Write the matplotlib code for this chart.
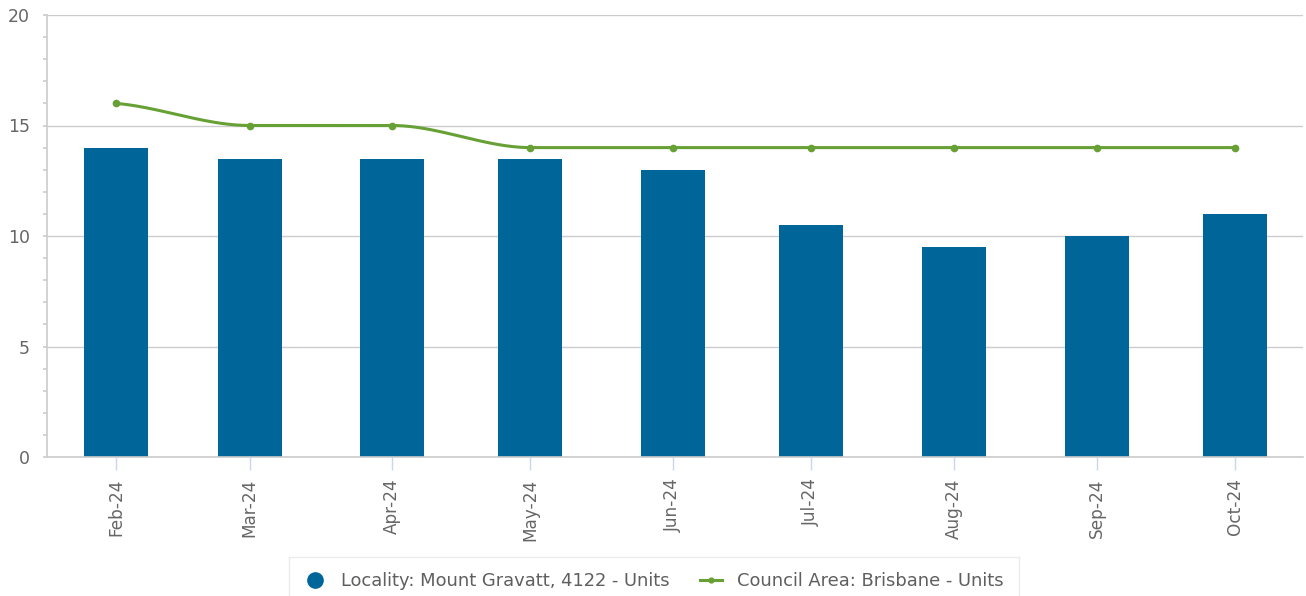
import matplotlib
matplotlib.use("Agg")
import matplotlib.pyplot as plt
import matplotlib.dates as mdates
from matplotlib.lines import Line2D
from matplotlib.ticker import MultipleLocator
import numpy as np
import datetime as dt

months = ["2024-02-01", "2024-03-01", "2024-04-01", "2024-05-01", "2024-06-01",
          "2024-07-01", "2024-08-01", "2024-09-01", "2024-10-01"]
locality_units = [14, 13.5, 13.5, 13.5, 13, 10.5, 9.5, 10, 11]
council_units = [16, 15, 15, 14, 14, 14, 14, 14, 14]
series_names = ["Locality: Mount Gravatt, 4122 - Units", "Council Area: Brisbane - Units"]

BAR_C = "#006699"
LINE_C = "#67a034"
TXT_C = "#666666"

dates = [dt.datetime.strptime(m, "%Y-%m-%d") for m in months]
x = mdates.date2num(dates)


def pchip(xk, yk, n=40):
    xk = np.asarray(xk, float)
    yk = np.asarray(yk, float)
    h = np.diff(xk)
    d = np.diff(yk) / h
    m = np.zeros_like(yk)
    for i in range(1, len(yk) - 1):
        if d[i - 1] * d[i] > 0:
            w1 = 2 * h[i] + h[i - 1]
            w2 = h[i] + 2 * h[i - 1]
            m[i] = (w1 + w2) / (w1 / d[i - 1] + w2 / d[i])
    m[0] = 0.5 * d[0]
    m[-1] = 0.5 * d[-1]
    xs, ys = [], []
    for i in range(len(h)):
        t = np.linspace(0, 1, n)
        h00 = 2 * t**3 - 3 * t**2 + 1
        h10 = t**3 - 2 * t**2 + t
        h01 = -2 * t**3 + 3 * t**2
        h11 = t**3 - t**2
        xs.append(xk[i] + t * h[i])
        ys.append(h00 * yk[i] + h10 * h[i] * m[i] + h01 * yk[i + 1] + h11 * h[i] * m[i + 1])
    return np.concatenate(xs), np.concatenate(ys)


fig = plt.figure(figsize=(13.06, 5.96), dpi=100)
ax = fig.add_axes([47 / 1306, 1 - 457 / 596, (1303 - 47) / 1306, (457 - 15) / 596])

ax.bar(x, locality_units, width=13.9, color=BAR_C, zorder=2, align="center")
sx, sy = pchip(x, council_units)
ax.plot(sx, sy, color=LINE_C, lw=2.2, zorder=3, solid_capstyle="round")
ax.plot(x, council_units, linestyle="none", marker="o", ms=4.5, color=LINE_C, zorder=4)

ax.set_ylim(0, 20)
ax.set_xlim(x[0] - 14.98, x[-1] + 14.77)
ax.yaxis.set_major_locator(MultipleLocator(5))
ax.yaxis.set_minor_locator(MultipleLocator(1))
ax.grid(axis="y", which="major", color="#cccccc", lw=1, zorder=0)
ax.set_axisbelow(True)

ax.set_xticks(x)
ax.set_xticklabels([d.strftime("%b-%y") for d in dates], rotation=90)

for s in ["top", "right"]:
    ax.spines[s].set_visible(False)
ax.spines["left"].set_color("#cccccc")
ax.spines["bottom"].set_color("#cccccc")
ax.spines["left"].set_linewidth(1.2)
ax.spines["bottom"].set_linewidth(1.2)

ax.tick_params(axis="y", which="major", length=3, width=1.2, color="#cccccc",
               labelsize=12.5, labelcolor=TXT_C, pad=9.2)
ax.tick_params(axis="y", which="minor", length=3, width=1.2, color="#cccccc")
ax.tick_params(axis="x", which="major", length=9.5, width=1, color="#ccd6eb",
               labelsize=12.2, labelcolor=TXT_C, pad=6)

handles = [
    Line2D([], [], linestyle="none", marker="o", ms=11, color=BAR_C),
    Line2D([], [], color=LINE_C, lw=2.2, marker="o", ms=3.5),
]
leg = fig.legend(handles, series_names, loc="upper left",
                 bbox_to_anchor=(289 / 1306, 1 - 557 / 596), borderaxespad=0,
                 ncol=2, frameon=True, fontsize=12.9, labelcolor="#5f5f5f",
                 handlelength=1.25, columnspacing=1.7, borderpad=0.85, handletextpad=0.8,
                 fancybox=False)
leg.get_frame().set_edgecolor("#e6e6e6")
leg.get_frame().set_linewidth(1)

fig.savefig("out.png", dpi=100)
